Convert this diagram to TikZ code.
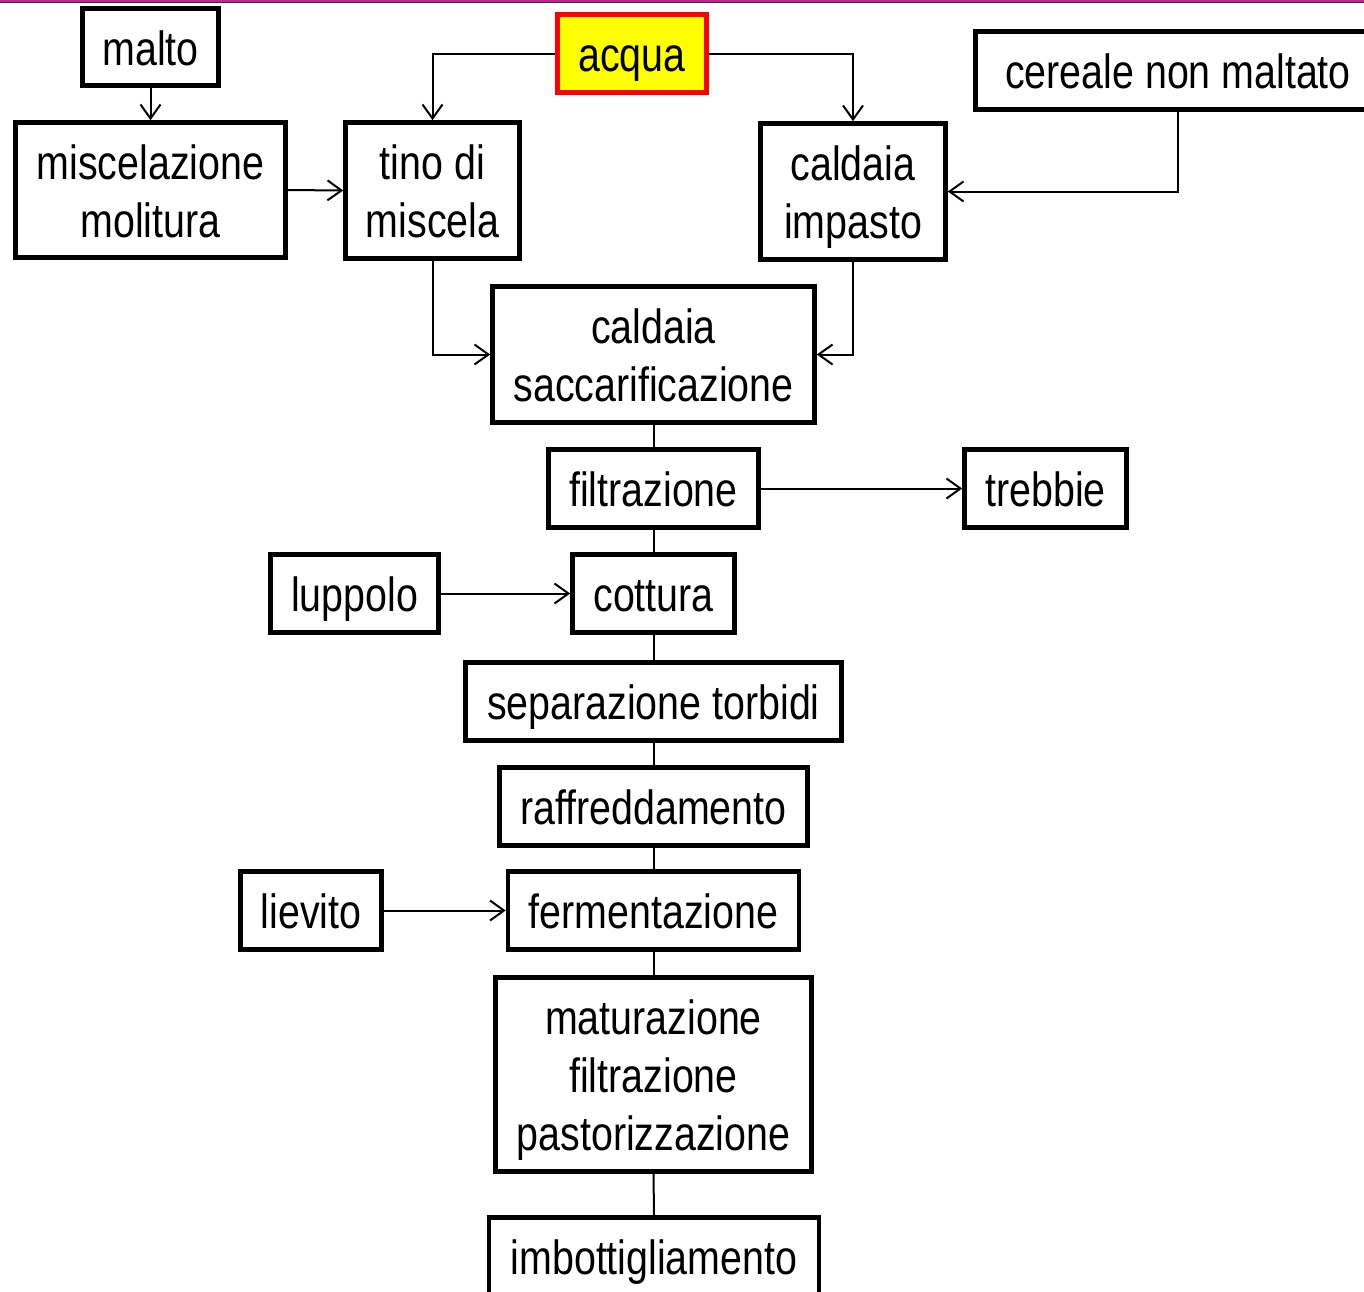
\documentclass[tikz,border=0pt]{standalone}
\usepackage{fontspec}
\setmainfont{Liberation Sans}[FakeStretch=0.82]
\usetikzlibrary{arrows.meta}
\definecolor{topmag}{RGB}{190,40,140}
\definecolor{boxyellow}{RGB}{255,255,0}
\definecolor{boxred}{RGB}{255,0,0}
\newcommand\sr{\rule[-5.5pt]{0pt}{29pt}}
\tikzset{
  box/.style={draw, line width=2.3pt, inner sep=0pt, align=center,
    font=\fontsize{24}{29}\selectfont},
  wh/.style 2 args={minimum width=#1*0.5pt+1.5pt, minimum height=#2*0.5pt+1.5pt},
  conn/.style={line width=1pt},
  arr/.style={line width=1pt, -{Straight Barb[length=7pt,width=10pt,line width=1pt]}}
}
\begin{document}
\begin{tikzpicture}[x=0.5pt,y=-0.5pt]
\useasboundingbox (0,0) rectangle (1364,1291);
\clip (0,0) rectangle (1364,1291);
\fill[topmag] (0,0) rectangle (1364,1.6);
\draw[line width=0.5pt, black!80] (0,2.3) -- (1364,2.3);

\node[box, wh={133}{74}] (malto) at (150.5,47) {\sr malto};
\node[box, draw=boxred, fill=boxyellow, wh={146}{75}] (acqua) at (632,53.5) {\sr acqua};
\node[box, wh={402}{75}] (cereale) at (1178,70.5) {\sr cereale non maltato};
\node[box, wh={267}{132}] (misc) at (150.5,190) {\sr miscelazione\\\sr molitura};
\node[box, wh={171}{133}] (tino) at (432.5,190.5) {\sr tino di\\\sr miscela};
\node[box, wh={182}{133}] (impasto) at (853,191.5) {\sr caldaia\\\sr impasto};
\node[box, wh={319}{133}] (sacc) at (653.5,354.5) {\sr caldaia\\\sr saccarificazione};
\node[box, wh={207}{75}] (filtr) at (653.5,488.5) {\sr filtrazione};
\node[box, wh={159}{75}] (trebbie) at (1045.5,488.5) {\sr trebbie};
\node[box, wh={165}{75}] (luppolo) at (354.5,593.5) {\sr luppolo};
\node[box, wh={159}{75}] (cottura) at (653.5,593.5) {\sr cottura};
\node[box, wh={373}{75}] (separ) at (653.5,701.5) {\sr separazione torbidi};
\node[box, wh={305}{75}] (raffr) at (653.5,806.5) {\sr raffreddamento};
\node[box, wh={138}{75}] (lievito) at (311,910.5) {\sr lievito};
\node[box, wh={288}{75}] (ferm) at (653.5,910.5) {\sr fermentazione};
\node[box, wh={313}{191}] (matur) at (653.5,1074.5) {\sr maturazione\\\sr filtrazione\\\sr pastorizzazione};
\node[box, wh={327}{75}] (imbott) at (654,1256.5) {\sr imbottigliamento};

\draw[arr] (malto.south) -- (misc.north);
\draw[arr] (misc.east) -- (tino.west);
\draw[arr] (acqua.west) -| (tino.north);
\draw[arr] (acqua.east) -| (impasto.north);
\draw[arr] (cereale.south) |- (impasto.east);
\draw[arr] (tino.south) |- (sacc.west);
\draw[arr] (impasto.south) |- (sacc.east);
\draw[conn] (sacc.south) -- (filtr.north);
\draw[arr] (filtr.east) -- (trebbie.west);
\draw[conn] (filtr.south) -- (cottura.north);
\draw[arr] (luppolo.east) -- (cottura.west);
\draw[conn] (cottura.south) -- (separ.north);
\draw[conn] (separ.south) -- (raffr.north);
\draw[conn] (raffr.south) -- (ferm.north);
\draw[arr] (lievito.east) -- (ferm.west);
\draw[conn] (ferm.south) -- (matur.north);
\draw[conn] (matur.south) -- (imbott.north);
\end{tikzpicture}
\end{document}
